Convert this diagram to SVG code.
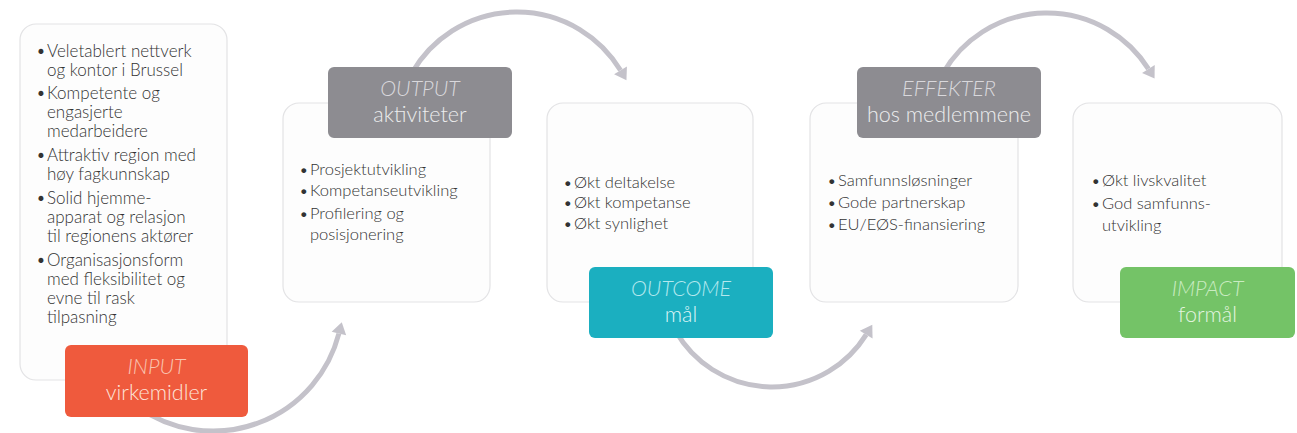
<svg xmlns="http://www.w3.org/2000/svg" width="1297" height="433" viewBox="0 0 1297 433">
<defs>
<style>
.box{fill:#fdfdfd;stroke:#e3e3e5;stroke-width:1.2}
.lbl{stroke:none}
.t{font-family:Lato,"Open Sans","Liberation Sans",sans-serif;font-size:16.5px;font-weight:300;fill:#333333}
.t1{font-size:17px}
.h{font-family:Lato,"Open Sans","Liberation Sans",sans-serif;font-size:21.5px;font-weight:300;text-anchor:middle}
.i{font-style:italic}
.arc{fill:none;stroke:#c4c2ca;stroke-width:5}
</style>
<marker id="ah" markerUnits="userSpaceOnUse" markerWidth="14" markerHeight="18" viewBox="0 -9 12 18" refX="0" refY="0" orient="auto">
<path d="M0,-7.5 L11.5,0 L0,7.5 z" fill="#c4c2ca"/>
</marker>
</defs>
<rect width="1297" height="433" fill="#ffffff"/>
<g id="connectors">
<path class="arc" d="M138.4,407.5 A130,130 0 0 0 338.9,333.5" marker-end="url(#ah)"/>
<path class="arc" d="M412.2,72.5 A121,121 0 0 1 620.5,70.3" marker-end="url(#ah)"/>
<path class="arc" d="M675.9,331.5 A111,111 0 0 0 866.2,334.6" marker-end="url(#ah)"/>
<path class="arc" d="M943.1,73 A120,120 0 0 1 1148.4,68.9" marker-end="url(#ah)"/>
</g>
<g id="node-input">
<rect class="box" x="20" y="24" width="207" height="356" rx="16"/>
<text class="t t1"><tspan x="36" y="57">•</tspan><tspan x="47" y="57">Veletablert nettverk</tspan><tspan x="47" y="76">og kontor i Brussel</tspan><tspan x="36" y="99">•</tspan><tspan x="47" y="99">Kompetente og</tspan><tspan x="47" y="118">engasjerte</tspan><tspan x="47" y="137">medarbeidere</tspan><tspan x="36" y="161">•</tspan><tspan x="47" y="161">Attraktiv region med</tspan><tspan x="47" y="180">høy fagkunnskap</tspan><tspan x="36" y="204">•</tspan><tspan x="47" y="204">Solid hjemme-</tspan><tspan x="47" y="223">apparat og relasjon</tspan><tspan x="47" y="242">til regionens aktører</tspan><tspan x="36" y="266">•</tspan><tspan x="47" y="266">Organisasjonsform</tspan><tspan x="47" y="285">med fleksibilitet og</tspan><tspan x="47" y="304">evne til rask</tspan><tspan x="47" y="323">tilpasning</tspan></text>
<rect class="lbl" x="65" y="345" width="183" height="72" rx="6" fill="#ef5a3d"/>
<text class="h i" x="156.5" y="374" fill="#f9c4b0">INPUT</text>
<text class="h" x="156.5" y="400" fill="#fde4da">virkemidler</text>
</g>
<g id="node-output">
<rect class="box" x="283" y="103" width="207" height="199" rx="16"/>
<text class="t"><tspan x="299" y="175">•</tspan><tspan x="310" y="175">Prosjektutvikling</tspan><tspan x="299" y="196">•</tspan><tspan x="310" y="196">Kompetanseutvikling</tspan><tspan x="299" y="219">•</tspan><tspan x="310" y="219">Profilering og</tspan><tspan x="310" y="240">posisjonering</tspan></text>
<rect class="lbl" x="328" y="67" width="184" height="71" rx="6" fill="#8d8c91"/>
<text class="h i" x="420" y="96" fill="#d9d8dc">OUTPUT</text>
<text class="h" x="420" y="122" fill="#ececee">aktiviteter</text>
</g>
<g id="node-outcome">
<rect class="box" x="547" y="103" width="206" height="199" rx="16"/>
<text class="t"><tspan x="563" y="188">•</tspan><tspan x="574" y="188">Økt deltakelse</tspan><tspan x="563" y="208">•</tspan><tspan x="574" y="208">Økt kompetanse</tspan><tspan x="563" y="229">•</tspan><tspan x="574" y="229">Økt synlighet</tspan></text>
<rect class="lbl" x="589" y="267" width="184" height="71" rx="6" fill="#1bafc0"/>
<text class="h i" x="681" y="296" fill="#b4e8ee">OUTCOME</text>
<text class="h" x="681" y="322" fill="#def5f7">mål</text>
</g>
<g id="node-effekter">
<rect class="box" x="810" y="103" width="208" height="199" rx="16"/>
<text class="t"><tspan x="827" y="186">•</tspan><tspan x="838" y="186">Samfunnsløsninger</tspan><tspan x="827" y="208">•</tspan><tspan x="838" y="208">Gode partnerskap</tspan><tspan x="827" y="230">•</tspan><tspan x="838" y="230">EU/EØS-finansiering</tspan></text>
<rect class="lbl" x="857" y="67" width="184" height="71" rx="6" fill="#8d8c91"/>
<text class="h i" x="949" y="96" fill="#d9d8dc">EFFEKTER</text>
<text class="h" x="949" y="122" fill="#ececee">hos medlemmene</text>
</g>
<g id="node-impact">
<rect class="box" x="1073" y="103" width="209" height="199" rx="16"/>
<text class="t"><tspan x="1091" y="186">•</tspan><tspan x="1102" y="186">Økt livskvalitet</tspan><tspan x="1091" y="209">•</tspan><tspan x="1102" y="209">God samfunns-</tspan><tspan x="1102" y="231">utvikling</tspan></text>
<rect class="lbl" x="1120" y="267" width="175" height="71" rx="6" fill="#74c367"/>
<text class="h i" x="1207.5" y="296" fill="#c9ebc1">IMPACT</text>
<text class="h" x="1207.5" y="322" fill="#e4f5e0">formål</text>
</g>
</svg>
